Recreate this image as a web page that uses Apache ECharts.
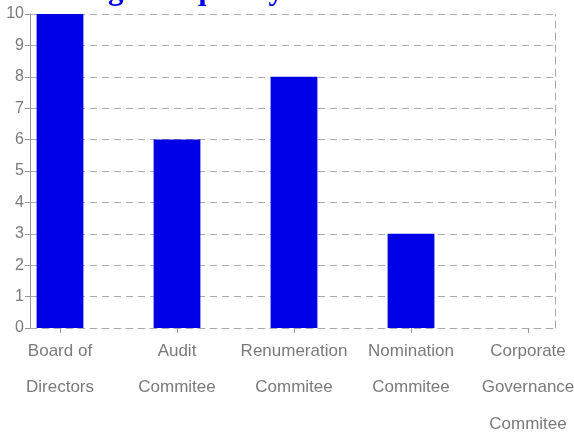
<!DOCTYPE html>
<html>
<head>
<meta charset="utf-8">
<script src="https://cdn.jsdelivr.net/npm/echarts@6/dist/echarts.min.js"></script>
<style>
  html, body { margin: 0; padding: 0; background: #fff; }
  #chart { width: 574px; height: 434px; }
</style>
</head>
<body>
<div id="chart"></div>
<script>
const committees = [
  'Board of\nDirectors',
  'Audit\nCommitee',
  'Renumeration\nCommitee',
  'Nomination\nCommitee',
  'Corporate\nGovernance\nCommitee'
]
const meetings = [10, 6, 8, 3, 0]
const yTicks = { min: 0, max: 10, interval: 1 }

const chart = echarts.init(document.getElementById('chart'))

const gray = '#aaaaaa'
const labelGray = '#7a7a7a'
const dash = [7, 5]

// grid 0 = the frame (axes, dashed lines), grid 1 = bars + category labels,
// which are spaced wider than the frame in the original
const option = {
  backgroundColor: '#ffffff',
  animation: false,
  title: {
    text: 'Meetings Frequency',
    left: 10,
    top: -30,
    textStyle: {
      fontFamily: 'Liberation Serif',
      fontWeight: 'bold',
      fontSize: 31,
      color: '#0000e6'
    }
  },
  grid: [
    { left: 30, right: 19, top: 14, bottom: 106, outerBoundsMode: 'none' },
    { left: 1.5, right: -12.5, top: 14, bottom: 106, outerBoundsMode: 'none' }
  ],
  xAxis: [
    {
      type: 'category',
      gridIndex: 0,
      data: committees,
      axisLine: { lineStyle: { color: gray, type: dash } },
      axisTick: { show: false },
      axisLabel: { show: false }
    },
    {
      type: 'category',
      gridIndex: 1,
      data: committees,
      axisLine: { show: false },
      axisTick: { show: true, alignWithLabel: true, length: 5, lineStyle: { color: '#999' } },
      axisLabel: {
        interval: 0,
        margin: 5,
        fontFamily: 'Liberation Sans',
        fontSize: 17,
        lineHeight: 36.5,
        color: labelGray
      }
    }
  ],
  yAxis: [
    {
      type: 'value',
      gridIndex: 0,
      min: yTicks.min,
      max: yTicks.max,
      interval: yTicks.interval,
      axisLine: { show: true, lineStyle: { color: '#999' } },
      axisTick: { show: true, length: 5, lineStyle: { color: '#999' } },
      axisLabel: {
        margin: 6,
        fontFamily: 'Liberation Sans',
        fontSize: 16,
        color: labelGray
      },
      splitLine: { lineStyle: { color: gray, type: dash, width: 1.2 } }
    },
    {
      type: 'value',
      gridIndex: 0,
      position: 'right',
      min: yTicks.min,
      max: yTicks.max,
      interval: yTicks.interval,
      axisLine: { show: true, lineStyle: { color: gray, type: dash } },
      axisTick: { show: false },
      axisLabel: { show: false },
      splitLine: { show: false }
    },
    {
      type: 'value',
      gridIndex: 1,
      min: yTicks.min,
      max: yTicks.max,
      interval: yTicks.interval,
      show: false
    }
  ],
  series: [
    {
      type: 'bar',
      xAxisIndex: 1,
      yAxisIndex: 2,
      data: meetings,
      barWidth: '40%',
      itemStyle: { color: '#0000e6' }
    }
  ]
}

chart.setOption(option)
</script>
</body>
</html>
